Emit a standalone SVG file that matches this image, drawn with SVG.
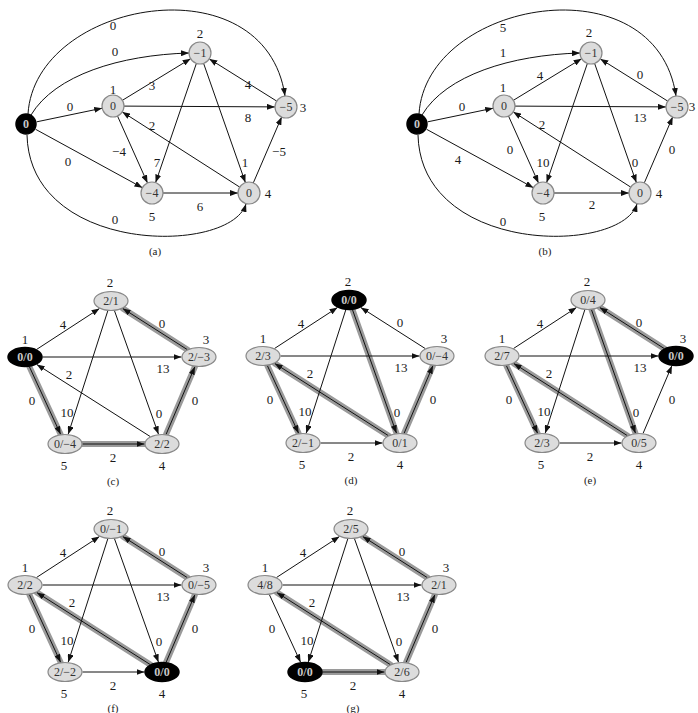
<svg xmlns="http://www.w3.org/2000/svg" width="698" height="713" viewBox="0 0 698 713">
<style>
.e{fill:none;stroke:#111;stroke-width:1;marker-end:url(#ah)}
.sh{fill:none;stroke:#9a9a9a;stroke-width:6;stroke-linecap:round}
.n{fill:#dcdcdc;stroke:#888;stroke-width:1.2}
.b{fill:#000;stroke:#000;stroke-width:1.5}
text{font-family:"Liberation Serif","Times New Roman",serif;font-size:13px;fill:#1a1a1a;text-anchor:middle}
.nt{fill:#333;font-size:12px}
.bt{fill:#c8c8c8;font-weight:bold;font-size:12px}
.cap{font-size:11px}
</style>
<defs>
<marker id="ah" markerWidth="8" markerHeight="6" refX="8" refY="3" orient="auto" markerUnits="userSpaceOnUse">
<path d="M0,0 L8,3 L0,6 z" fill="#111"/>
</marker>
</defs>
<rect width="698" height="713" fill="#fff"/>

<!-- Panel (a) -->
<g id="panel-a">
<g id="a-connectors">
<path class="e" d="M36.8,121.8 L102.2,108.2"/>
<path class="e" d="M35.6,129.3 L142.4,187.7"/>
<path class="e" d="M31,115 C55,75 120,55 189,53"/>
<path class="e" d="M28,114 C35,0 265,-40 285,96"/>
<path class="e" d="M27,135 C30,255 230,255 246,204"/>
<path class="e" d="M122.4,100.3 L190.6,58.7"/>
<path class="e" d="M124,106.1 L275,106.9"/>
<path class="e" d="M117.5,116 L147.5,183"/>
<path class="e" d="M203.6,63.4 L245.4,182.6"/>
<path class="e" d="M196.4,63.4 L155.6,182.6"/>
<path class="e" d="M276.7,101.1 L209.3,58.9"/>
<path class="e" d="M239.7,187.1 L122.3,111.9"/>
<path class="e" d="M253.3,182.9 L281.7,116.9"/>
<path class="e" d="M163,193 L238,193"/>
</g>
<g id="a-labels">
<text x="113" y="30">0</text>
<text x="115" y="56">0</text>
<text x="70" y="111">0</text>
<text x="68" y="166">0</text>
<text x="152" y="90">3</text>
<text x="248" y="89">4</text>
<text x="248" y="122">8</text>
<text x="119" y="156">−4</text>
<text x="157" y="167">7</text>
<text x="245" y="167">1</text>
<text x="152" y="130">2</text>
<text x="279" y="156">−5</text>
<text x="200" y="211">6</text>
<text x="115" y="224">0</text>
</g>
<g id="a-s"><circle class="b" cx="26" cy="124" r="10"/><text class="bt" x="26" y="128">0</text></g>
<g id="a-n1"><circle class="n" cx="113" cy="106" r="11"/><text class="nt" x="113" y="110">0</text><text x="113" y="94">1</text></g>
<g id="a-n2"><circle class="n" cx="200" cy="53" r="11"/><text class="nt" x="200" y="57">−1</text><text x="200" y="38">2</text></g>
<g id="a-n3"><circle class="n" cx="286" cy="107" r="11"/><text class="nt" x="286" y="111">−5</text><text x="303" y="112">3</text></g>
<g id="a-n4"><circle class="n" cx="249" cy="193" r="11"/><text class="nt" x="249" y="197">0</text><text x="268" y="198">4</text></g>
<g id="a-n5"><circle class="n" cx="152" cy="193" r="11"/><text class="nt" x="152" y="197">−4</text><text x="152" y="221">5</text></g>
<text class="cap" x="155" y="255">(a)</text>
</g>

<!-- Panel (b) -->
<g id="panel-b" transform="translate(391,0)">
<g id="b-connectors">
<path class="e" d="M36.8,121.8 L102.2,108.2"/>
<path class="e" d="M35.6,129.3 L142.4,187.7"/>
<path class="e" d="M31,115 C55,75 120,55 189,53"/>
<path class="e" d="M28,114 C35,0 265,-40 285,96"/>
<path class="e" d="M27,135 C30,255 230,255 246,204"/>
<path class="e" d="M122.4,100.3 L190.6,58.7"/>
<path class="e" d="M124,106.1 L275,106.9"/>
<path class="e" d="M117.5,116 L147.5,183"/>
<path class="e" d="M203.6,63.4 L245.4,182.6"/>
<path class="e" d="M196.4,63.4 L155.6,182.6"/>
<path class="e" d="M276.7,101.1 L209.3,58.9"/>
<path class="e" d="M239.7,187.1 L122.3,111.9"/>
<path class="e" d="M253.3,182.9 L281.7,116.9"/>
<path class="e" d="M163,193 L238,193"/>
</g>
<g id="b-labels">
<text x="112" y="32">5</text>
<text x="112" y="57">1</text>
<text x="71" y="111">0</text>
<text x="67" y="164">4</text>
<text x="149" y="80">4</text>
<text x="249" y="79">0</text>
<text x="249" y="122">13</text>
<text x="151" y="129">2</text>
<text x="119" y="154">0</text>
<text x="152" y="167">10</text>
<text x="244" y="167">0</text>
<text x="281" y="154">0</text>
<text x="201" y="209">2</text>
<text x="112" y="226">0</text>
</g>
<g id="b-s"><circle class="b" cx="26" cy="124" r="10"/><text class="bt" x="26" y="128">0</text></g>
<g id="b-n1"><circle class="n" cx="113" cy="106" r="11"/><text class="nt" x="113" y="110">0</text><text x="112" y="92">1</text></g>
<g id="b-n2"><circle class="n" cx="200" cy="53" r="11"/><text class="nt" x="200" y="57">−1</text><text x="198" y="37">2</text></g>
<g id="b-n3"><circle class="n" cx="286" cy="107" r="11"/><text class="nt" x="286" y="111">−5</text><text x="301" y="111">3</text></g>
<g id="b-n4"><circle class="n" cx="249" cy="193" r="11"/><text class="nt" x="249" y="197">0</text><text x="268" y="198">4</text></g>
<g id="b-n5"><circle class="n" cx="152" cy="193" r="11"/><text class="nt" x="152" y="197">−4</text><text x="151" y="221">5</text></g>
<text class="cap" x="154" y="255">(b)</text>
</g>

<!-- Panel (c) -->
<g id="panel-c" transform="translate(25,357)">
<g id="c-connectors">
<path class="sh" d="M4.4,9.7 L35.6,77.3"/>
<path class="sh" d="M57.5,87 L119.5,87"/>
<path class="sh" d="M141.1,77.3 L169.9,9.7"/>
<path class="sh" d="M162.3,-7.4 L97.7,-48.6"/>
<path class="e" d="M11.5,-7.5 L74.5,-48.5"/>
<path class="e" d="M17.5,0 L156.5,0"/>
<path class="e" d="M4.4,9.7 L35.6,77.3"/>
<path class="e" d="M89.5,-46.2 L133.5,77.2"/>
<path class="e" d="M82.8,-46.2 L43.2,77.2"/>
<path class="e" d="M162.3,-7.4 L97.7,-48.6"/>
<path class="e" d="M125.3,79.6 L11.7,7.4"/>
<path class="e" d="M141.1,77.3 L169.9,9.7"/>
<path class="e" d="M57.5,87 L119.5,87"/>
</g>
<g id="c-labels">
<text x="38" y="-28">4</text><text x="137" y="-29">0</text><text x="138" y="16">13</text>
<text x="44" y="22">2</text><text x="7" y="48">0</text><text x="42" y="60">10</text>
<text x="134" y="61">0</text><text x="170" y="48">0</text><text x="88" y="105">2</text>
</g>
<g id="c-n1"><ellipse class="b" cx="0" cy="0" rx="17" ry="9.5"/><text class="bt" x="0" y="4">0/0</text><text x="0" y="-13">1</text></g>
<g id="c-n2"><ellipse class="n" cx="86" cy="-56" rx="17" ry="9.5"/><text class="nt" x="86" y="-52">2/1</text><text x="85" y="-70">2</text></g>
<g id="c-n3"><ellipse class="n" cx="174" cy="0" rx="17" ry="9.5"/><text class="nt" x="174" y="4">2/−3</text><text x="181" y="-13">3</text></g>
<g id="c-n4"><ellipse class="n" cx="137" cy="87" rx="17" ry="9.5"/><text class="nt" x="137" y="91">2/2</text><text x="137" y="113">4</text></g>
<g id="c-n5"><ellipse class="n" cx="40" cy="87" rx="17" ry="9.5"/><text class="nt" x="40" y="91">0/−4</text><text x="39" y="113">5</text></g>
<text class="cap" x="88" y="128">(c)</text>
</g>

<!-- Panel (d) -->
<g id="panel-d" transform="translate(263,356)">
<g id="d-connectors">
<path class="sh" d="M89.5,-46.2 L133.5,77.2"/>
<path class="sh" d="M125.3,79.6 L11.7,7.4"/>
<path class="sh" d="M4.4,9.7 L35.6,77.3"/>
<path class="sh" d="M141.1,77.3 L169.9,9.7"/>
<path class="e" d="M11.5,-7.5 L74.5,-48.5"/>
<path class="e" d="M17.5,0 L156.5,0"/>
<path class="e" d="M4.4,9.7 L35.6,77.3"/>
<path class="e" d="M89.5,-46.2 L133.5,77.2"/>
<path class="e" d="M82.8,-46.2 L43.2,77.2"/>
<path class="e" d="M162.3,-7.4 L97.7,-48.6"/>
<path class="e" d="M125.3,79.6 L11.7,7.4"/>
<path class="e" d="M141.1,77.3 L169.9,9.7"/>
<path class="e" d="M57.5,87 L119.5,87"/>
</g>
<g id="d-labels">
<text x="38" y="-28">4</text><text x="137" y="-29">0</text><text x="138" y="16">13</text>
<text x="47" y="22">2</text><text x="7" y="48">0</text><text x="42" y="60">10</text>
<text x="134" y="61">0</text><text x="170" y="48">0</text><text x="88" y="105">2</text>
</g>
<g id="d-n1"><ellipse class="n" cx="0" cy="0" rx="17" ry="9.5"/><text class="nt" x="0" y="4">2/3</text><text x="0" y="-13">1</text></g>
<g id="d-n2"><ellipse class="b" cx="86" cy="-56" rx="17" ry="9.5"/><text class="bt" x="86" y="-52">0/0</text><text x="85" y="-70">2</text></g>
<g id="d-n3"><ellipse class="n" cx="174" cy="0" rx="17" ry="9.5"/><text class="nt" x="174" y="4">0/−4</text><text x="181" y="-13">3</text></g>
<g id="d-n4"><ellipse class="n" cx="137" cy="87" rx="17" ry="9.5"/><text class="nt" x="137" y="91">0/1</text><text x="137" y="113">4</text></g>
<g id="d-n5"><ellipse class="n" cx="40" cy="87" rx="17" ry="9.5"/><text class="nt" x="40" y="91">2/−1</text><text x="39" y="113">5</text></g>
<text class="cap" x="88" y="128">(d)</text>
</g>

<!-- Panel (e) -->
<g id="panel-e" transform="translate(502,356)">
<g id="e-connectors">
<path class="sh" d="M162.3,-7.4 L97.7,-48.6"/>
<path class="sh" d="M89.5,-46.2 L133.5,77.2"/>
<path class="sh" d="M125.3,79.6 L11.7,7.4"/>
<path class="sh" d="M4.4,9.7 L35.6,77.3"/>
<path class="e" d="M11.5,-7.5 L74.5,-48.5"/>
<path class="e" d="M17.5,0 L156.5,0"/>
<path class="e" d="M4.4,9.7 L35.6,77.3"/>
<path class="e" d="M89.5,-46.2 L133.5,77.2"/>
<path class="e" d="M82.8,-46.2 L43.2,77.2"/>
<path class="e" d="M162.3,-7.4 L97.7,-48.6"/>
<path class="e" d="M125.3,79.6 L11.7,7.4"/>
<path class="e" d="M141.1,77.3 L169.9,9.7"/>
<path class="e" d="M57.5,87 L119.5,87"/>
</g>
<g id="e-labels">
<text x="38" y="-28">4</text><text x="137" y="-29">0</text><text x="138" y="16">13</text>
<text x="47" y="22">2</text><text x="7" y="48">0</text><text x="42" y="60">10</text>
<text x="134" y="61">0</text><text x="170" y="48">0</text><text x="88" y="105">2</text>
</g>
<g id="e-n1"><ellipse class="n" cx="0" cy="0" rx="17" ry="9.5"/><text class="nt" x="0" y="4">2/7</text><text x="0" y="-13">1</text></g>
<g id="e-n2"><ellipse class="n" cx="86" cy="-56" rx="17" ry="9.5"/><text class="nt" x="86" y="-52">0/4</text><text x="85" y="-70">2</text></g>
<g id="e-n3"><ellipse class="b" cx="174" cy="0" rx="17" ry="9.5"/><text class="bt" x="174" y="4">0/0</text><text x="181" y="-13">3</text></g>
<g id="e-n4"><ellipse class="n" cx="137" cy="87" rx="17" ry="9.5"/><text class="nt" x="137" y="91">0/5</text><text x="137" y="113">4</text></g>
<g id="e-n5"><ellipse class="n" cx="40" cy="87" rx="17" ry="9.5"/><text class="nt" x="40" y="91">2/3</text><text x="39" y="113">5</text></g>
<text class="cap" x="88" y="128">(e)</text>
</g>

<!-- Panel (f) -->
<g id="panel-f" transform="translate(25,585)">
<g id="f-connectors">
<path class="sh" d="M125.3,79.6 L11.7,7.4"/>
<path class="sh" d="M4.4,9.7 L35.6,77.3"/>
<path class="sh" d="M141.1,77.3 L169.9,9.7"/>
<path class="sh" d="M162.3,-7.4 L97.7,-48.6"/>
<path class="e" d="M11.5,-7.5 L74.5,-48.5"/>
<path class="e" d="M17.5,0 L156.5,0"/>
<path class="e" d="M4.4,9.7 L35.6,77.3"/>
<path class="e" d="M89.5,-46.2 L133.5,77.2"/>
<path class="e" d="M82.8,-46.2 L43.2,77.2"/>
<path class="e" d="M162.3,-7.4 L97.7,-48.6"/>
<path class="e" d="M125.3,79.6 L11.7,7.4"/>
<path class="e" d="M141.1,77.3 L169.9,9.7"/>
<path class="e" d="M57.5,87 L119.5,87"/>
</g>
<g id="f-labels">
<text x="38" y="-28">4</text><text x="137" y="-29">0</text><text x="138" y="16">13</text>
<text x="47" y="22">2</text><text x="7" y="48">0</text><text x="42" y="60">10</text>
<text x="134" y="61">0</text><text x="170" y="48">0</text><text x="88" y="105">2</text>
</g>
<g id="f-n1"><ellipse class="n" cx="0" cy="0" rx="17" ry="9.5"/><text class="nt" x="0" y="4">2/2</text><text x="0" y="-13">1</text></g>
<g id="f-n2"><ellipse class="n" cx="86" cy="-56" rx="17" ry="9.5"/><text class="nt" x="86" y="-52">0/−1</text><text x="85" y="-70">2</text></g>
<g id="f-n3"><ellipse class="n" cx="174" cy="0" rx="17" ry="9.5"/><text class="nt" x="174" y="4">0/−5</text><text x="181" y="-13">3</text></g>
<g id="f-n4"><ellipse class="b" cx="137" cy="87" rx="17" ry="9.5"/><text class="bt" x="137" y="91">0/0</text><text x="137" y="113">4</text></g>
<g id="f-n5"><ellipse class="n" cx="40" cy="87" rx="17" ry="9.5"/><text class="nt" x="40" y="91">2/−2</text><text x="39" y="113">5</text></g>
<text class="cap" x="88" y="127">(f)</text>
</g>

<!-- Panel (g) -->
<g id="panel-g" transform="translate(265,585)">
<g id="g-connectors">
<path class="sh" d="M57.5,87 L119.5,87"/>
<path class="sh" d="M125.3,79.6 L11.7,7.4"/>
<path class="sh" d="M141.1,77.3 L169.9,9.7"/>
<path class="sh" d="M162.3,-7.4 L97.7,-48.6"/>
<path class="e" d="M11.5,-7.5 L74.5,-48.5"/>
<path class="e" d="M17.5,0 L156.5,0"/>
<path class="e" d="M4.4,9.7 L35.6,77.3"/>
<path class="e" d="M89.5,-46.2 L133.5,77.2"/>
<path class="e" d="M82.8,-46.2 L43.2,77.2"/>
<path class="e" d="M162.3,-7.4 L97.7,-48.6"/>
<path class="e" d="M125.3,79.6 L11.7,7.4"/>
<path class="e" d="M141.1,77.3 L169.9,9.7"/>
<path class="e" d="M57.5,87 L119.5,87"/>
</g>
<g id="g-labels">
<text x="38" y="-28">4</text><text x="137" y="-29">0</text><text x="138" y="16">13</text>
<text x="47" y="22">2</text><text x="7" y="48">0</text><text x="42" y="60">10</text>
<text x="134" y="61">0</text><text x="170" y="48">0</text><text x="88" y="105">2</text>
</g>
<g id="g-n1"><ellipse class="n" cx="0" cy="0" rx="17" ry="9.5"/><text class="nt" x="0" y="4">4/8</text><text x="0" y="-13">1</text></g>
<g id="g-n2"><ellipse class="n" cx="86" cy="-56" rx="17" ry="9.5"/><text class="nt" x="86" y="-52">2/5</text><text x="85" y="-70">2</text></g>
<g id="g-n3"><ellipse class="n" cx="174" cy="0" rx="17" ry="9.5"/><text class="nt" x="174" y="4">2/1</text><text x="181" y="-13">3</text></g>
<g id="g-n4"><ellipse class="n" cx="137" cy="87" rx="17" ry="9.5"/><text class="nt" x="137" y="91">2/6</text><text x="137" y="113">4</text></g>
<g id="g-n5"><ellipse class="b" cx="40" cy="87" rx="17" ry="9.5"/><text class="bt" x="40" y="91">0/0</text><text x="39" y="113">5</text></g>
<text class="cap" x="88" y="127">(g)</text>
</g>
</svg>
